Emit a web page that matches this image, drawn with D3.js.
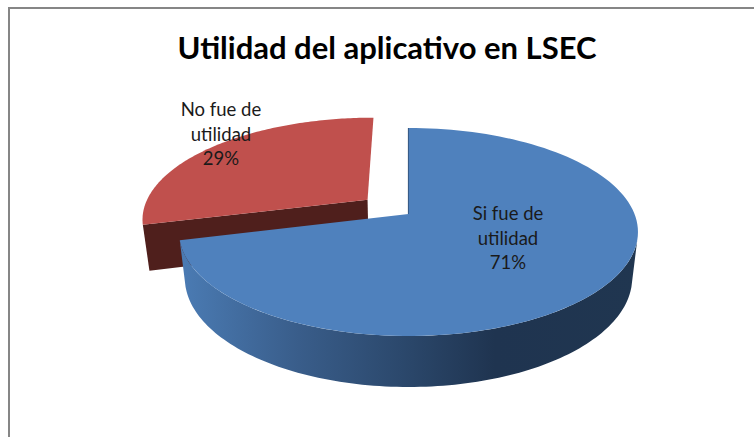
<!DOCTYPE html>
<html><head><meta charset="utf-8">
<script src="https://cdn.jsdelivr.net/npm/d3@7/dist/d3.min.js"></script>
<style>html,body{margin:0;padding:0;background:#fff}svg{display:block}</style>
</head><body><svg id="c" width="754" height="437"></svg>
<script>
const title = "Utilidad del aplicativo en LSEC";
const categories = ["Si fue de utilidad", "No fue de utilidad"];
const values = [71, 29];
const labelLines = [["Si fue de", "utilidad"], ["No fue de", "utilidad"]];
const explode = [0, 0.235];
const topColors = ["#4f81bd", "#c0504d"];
const wallColors = ["#1f3552", "#4f1f1c"];

const W = 754, H = 437;
const svg = d3.select("#c");
const defs = svg.append("defs");
const grad = defs.append("linearGradient").attr("id", "wall").attr("gradientUnits", "userSpaceOnUse")
  .attr("x1", 185).attr("x2", 640).attr("y1", 0).attr("y2", 0);
[[0, "#4a7ab2"], [0.25, "#395d8a"], [0.5, "#2a4669"], [0.68, "#1f3450"], [1, "#203650"]]
  .forEach(([o, c]) => grad.append("stop").attr("offset", o).attr("stop-color", c));

// frame
svg.append("path").attr("d", `M9,${H}V8H${W}`).attr("fill", "none").attr("stroke", "#868686").attr("stroke-width", 2);

// perspective projection of the tilted disc
const P = {cx: 408.5, cy: 214, R: 226, A: 100.9, k: 0.173, m: 0.025, D: 46.5};
function project(u, v, z) {
  const s = 1 / (1 - P.k * v + P.m * z);
  return [P.cx + P.R * u * s, P.cy + (P.A * v + P.D * z) * s];
}
const arcs = d3.pie().sort(null).value(d => d).startAngle(0).endAngle(2 * Math.PI)(values);
const line = d3.line();
function pt(a, r, z, off) {
  return project(off[0] + r * Math.sin(a), off[1] - r * Math.cos(a), z);
}
function offset(i) {
  const mid = (arcs[i].startAngle + arcs[i].endAngle) / 2;
  return [explode[i] * Math.sin(mid), -explode[i] * Math.cos(mid)];
}
function rim(a0, a1, z, off) {
  return d3.range(0, 121).map(j => pt(a0 + (a1 - a0) * j / 120, 1, z, off));
}

// exploded slice first, then main slice on top of it
[1, 0].forEach(i => {
  const a = arcs[i], off = offset(i);
  const g = svg.append("g");
  // radial wall that faces the viewer
  const an = i === 1 ? a.startAngle : a.startAngle;
  if (i === 1) {
    const w = a.startAngle;
    g.append("path").attr("d", line([pt(w, 0, 0, off), pt(w, 1, 0, off), pt(w, 1, 1, off), pt(w, 0, 1, off)]) + "Z")
      .attr("fill", wallColors[i]);
  } else {
    g.append("path").attr("d", line([pt(an, 0, 0, off), pt(an, 1, 0, off)]))
      .attr("fill", "none").attr("stroke", wallColors[i]).attr("stroke-width", 1.2);
  }
  // outer wall, only for the part facing the viewer
  if (i === 0) {
    const t = rim(Math.PI * 0.58, a.endAngle, 0, off), b = rim(Math.PI * 0.58, a.endAngle, 1, off).reverse();
    g.append("path").attr("d", line(t.concat(b)) + "Z").attr("fill", "url(#wall)");
  }
  // top face
  g.append("path").attr("d", line([pt(0, 0, 0, off)].concat(rim(a.startAngle, a.endAngle, 0, off))) + "Z")
    .attr("fill", topColors[i]);
});

// title
svg.append("text").attr("x", 387).attr("y", 59).attr("text-anchor", "middle")
  .attr("font-family", "Lato").attr("font-weight", 700).attr("font-size", 31).attr("fill", "#000").text(title);

// labels
const labelPos = [[508, 220], [221, 116]];
categories.forEach((c, i) => {
  const lines = labelLines[i].concat(values[i] + "%");
  const t = svg.append("text").attr("text-anchor", "middle").attr("font-family", "Lato")
    .attr("font-size", 18.5).attr("fill", "#1a1a1a");
  lines.forEach((l, j) => t.append("tspan").attr("x", labelPos[i][0]).attr("y", labelPos[i][1] + j * 24.7).text(l));
});
</script></body></html>
